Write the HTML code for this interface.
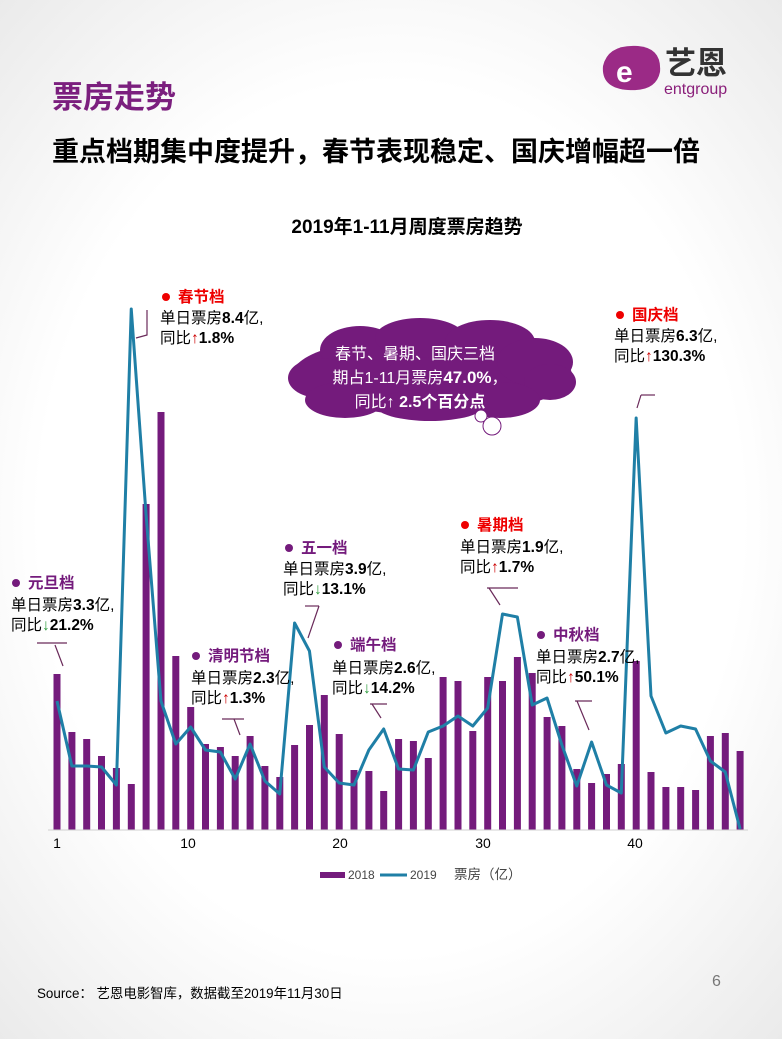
<!DOCTYPE html>
<html><head><meta charset="utf-8"><style>
html,body{margin:0;padding:0}
body{width:782px;height:1039px;overflow:hidden;background:radial-gradient(ellipse 75% 70% at 50% 50%,#ffffff 60%,#e9e9e9 100%);font-family:"Liberation Sans","Noto Sans CJK SC",sans-serif}
</style></head><body>
<svg width="782" height="1039" xmlns="http://www.w3.org/2000/svg" style="position:absolute;left:0;top:0;font-family:'Liberation Sans','Noto Sans CJK SC',sans-serif">
<!-- logo -->
<g>
<path d="M603 66 Q608 44 638 46 Q662 48 660 72 Q656 92 628 90 Q601 88 603 66Z" fill="#9b2a86"/>
<text x="616" y="82" font-size="30" font-weight="bold" fill="#fff">e</text>
<text x="665" y="74" font-size="31" font-weight="bold" fill="#333">艺恩</text>
<text x="664" y="94" font-size="16" fill="#8a1f7a">entgroup</text>
</g>
<text x="52" y="108" font-size="31" font-weight="bold" fill="#7b1f7e">票房走势</text>
<text x="52" y="161" font-size="27" font-weight="bold" fill="#000">重点档期集中度提升，春节表现稳定、国庆增幅超一倍</text>
<text x="407" y="233" font-size="19" font-weight="bold" fill="#000" text-anchor="middle">2019年1-11月周度票房趋势</text>

<!-- bars -->
<g fill="#741b7c">
<rect x="53.5" y="674" width="7" height="156"/>
<rect x="68.4" y="732" width="7" height="98"/>
<rect x="83.2" y="739" width="7" height="91"/>
<rect x="98" y="756" width="7" height="74"/>
<rect x="112.9" y="768" width="7" height="62"/>
<rect x="127.8" y="784" width="7" height="46"/>
<rect x="142.6" y="504" width="7" height="326"/>
<rect x="157.5" y="412" width="7" height="418"/>
<rect x="172.3" y="656" width="7" height="174"/>
<rect x="187.2" y="707" width="7" height="123"/>
<rect x="202" y="744" width="7" height="86"/>
<rect x="216.9" y="747" width="7" height="83"/>
<rect x="231.7" y="756" width="7" height="74"/>
<rect x="246.6" y="736" width="7" height="94"/>
<rect x="261.4" y="766" width="7" height="64"/>
<rect x="276.3" y="777" width="7" height="53"/>
<rect x="291.1" y="745" width="7" height="85"/>
<rect x="306" y="725" width="7" height="105"/>
<rect x="320.8" y="695" width="7" height="135"/>
<rect x="335.7" y="734" width="7" height="96"/>
<rect x="350.5" y="770" width="7" height="60"/>
<rect x="365.4" y="771" width="7" height="59"/>
<rect x="380.2" y="791" width="7" height="39"/>
<rect x="395.1" y="739" width="7" height="91"/>
<rect x="409.9" y="741" width="7" height="89"/>
<rect x="424.8" y="758" width="7" height="72"/>
<rect x="439.6" y="677" width="7" height="153"/>
<rect x="454.5" y="681" width="7" height="149"/>
<rect x="469.3" y="731" width="7" height="99"/>
<rect x="484.2" y="677" width="7" height="153"/>
<rect x="499" y="681" width="7" height="149"/>
<rect x="513.9" y="657" width="7" height="173"/>
<rect x="528.7" y="673" width="7" height="157"/>
<rect x="543.6" y="717" width="7" height="113"/>
<rect x="558.4" y="726" width="7" height="104"/>
<rect x="573.3" y="769" width="7" height="61"/>
<rect x="588.1" y="783" width="7" height="47"/>
<rect x="603" y="774" width="7" height="56"/>
<rect x="617.8" y="764" width="7" height="66"/>
<rect x="632.7" y="661" width="7" height="169"/>
<rect x="647.5" y="772" width="7" height="58"/>
<rect x="662.4" y="787" width="7" height="43"/>
<rect x="677.2" y="787" width="7" height="43"/>
<rect x="692.1" y="790" width="7" height="40"/>
<rect x="706.9" y="736" width="7" height="94"/>
<rect x="721.8" y="733" width="7" height="97"/>
<rect x="736.6" y="751" width="7" height="79"/>
</g>
<line x1="48" y1="830" x2="748" y2="830" stroke="#d0d0d0" stroke-width="1"/>
<polyline fill="none" stroke="#1f7fa6" stroke-width="3" stroke-linejoin="round" points="57,701 71.85,766 86.7,766 101.55,767 116.4,785 131.25,309 146.1,515 160.95,701 175.8,744 190.65,727 205.5,750 220.35,752 235.2,779 250.05,744 264.9,781 279.75,794 294.6,623 309.45,651 324.3,767 339.15,783 354,785 368.85,750 383.7,729 398.55,769 413.4,770 428.25,732 443.1,726 457.95,716 472.8,726 487.65,708 502.5,614 517.35,617 532.2,705 547.05,698 561.9,745 576.75,786 591.6,742 606.45,785 621.3,793 636.15,418 651,696 665.85,733 680.7,726 695.55,729 710.4,761 725.25,772 740.1,829"/>
<g font-size="14" fill="#000">
<text x="57" y="848" text-anchor="middle">1</text>
<text x="188" y="848" text-anchor="middle">10</text>
<text x="340" y="848" text-anchor="middle">20</text>
<text x="483" y="848" text-anchor="middle">30</text>
<text x="635" y="848" text-anchor="middle">40</text>
</g>
<!-- legend -->
<rect x="320" y="872" width="25" height="6" fill="#741b7c"/>
<text x="348" y="879" font-size="12" fill="#444">2018</text>
<line x1="380" y1="875" x2="407" y2="875" stroke="#1f7fa6" stroke-width="3"/>
<text x="410" y="879" font-size="12" fill="#444">2019</text>
<text x="454" y="879" font-size="13.5" fill="#444">票房（亿）</text>

<!-- cloud -->
<g fill="#741b7c">
<ellipse cx="432" cy="375" rx="140" ry="40"/>
<ellipse cx="360" cy="350" rx="40" ry="24"/><ellipse cx="420" cy="338" rx="45" ry="20"/>
<ellipse cx="490" cy="342" rx="45" ry="22"/><ellipse cx="535" cy="362" rx="38" ry="24"/><ellipse cx="550" cy="382" rx="26" ry="18"/>
<ellipse cx="320" cy="378" rx="32" ry="20"/><ellipse cx="345" cy="400" rx="40" ry="18"/><ellipse cx="430" cy="405" rx="55" ry="16"/><ellipse cx="500" cy="400" rx="40" ry="18"/>
</g>
<circle cx="481" cy="416" r="6" fill="#fff" stroke="#741b7c"/>
<circle cx="492" cy="426" r="9" fill="#fff" stroke="#741b7c"/>
<g fill="#fff" font-size="16" text-anchor="middle">
<text x="415" y="359">春节、暑期、国庆三档</text>
<text x="420" y="383">期占1-11月票房<tspan font-weight="bold" font-size="17">47.0%</tspan>，</text>
<text x="420" y="407">同比↑ <tspan font-weight="bold">2.5个百分点</tspan></text>
</g>

<!-- annotations -->
<g font-size="15.5" fill="#000">
<circle cx="166" cy="297" r="4" fill="#e00"/><text x="178" y="302" font-weight="bold" fill="#e00">春节档</text>
<text x="160" y="323">单日票房<tspan font-weight="bold">8.4</tspan>亿,</text>
<text x="160" y="343">同比<tspan fill="#c00">↑</tspan><tspan font-weight="bold">1.8%</tspan></text>

<circle cx="16" cy="583" r="4" fill="#741b7c"/><text x="28" y="588" font-weight="bold" fill="#741b7c">元旦档</text>
<text x="11" y="610">单日票房<tspan font-weight="bold">3.3</tspan>亿,</text>
<text x="11" y="630">同比<tspan fill="#2a9a3a">↓</tspan><tspan font-weight="bold">21.2%</tspan></text>

<circle cx="196" cy="656" r="4" fill="#741b7c"/><text x="208" y="661" font-weight="bold" fill="#741b7c">清明节档</text>
<text x="191" y="683">单日票房<tspan font-weight="bold">2.3</tspan>亿,</text>
<text x="191" y="703">同比<tspan fill="#c00">↑</tspan><tspan font-weight="bold">1.3%</tspan></text>

<circle cx="289" cy="548" r="4" fill="#741b7c"/><text x="301" y="553" font-weight="bold" fill="#741b7c">五一档</text>
<text x="283" y="574">单日票房<tspan font-weight="bold">3.9</tspan>亿,</text>
<text x="283" y="594">同比<tspan fill="#2a9a3a">↓</tspan><tspan font-weight="bold">13.1%</tspan></text>

<circle cx="338" cy="645" r="4" fill="#741b7c"/><text x="350" y="650" font-weight="bold" fill="#741b7c">端午档</text>
<text x="332" y="673">单日票房<tspan font-weight="bold">2.6</tspan>亿,</text>
<text x="332" y="693">同比<tspan fill="#2a9a3a">↓</tspan><tspan font-weight="bold">14.2%</tspan></text>

<circle cx="465" cy="525" r="4" fill="#e00"/><text x="477" y="530" font-weight="bold" fill="#e00">暑期档</text>
<text x="460" y="552">单日票房<tspan font-weight="bold">1.9</tspan>亿,</text>
<text x="460" y="572">同比<tspan fill="#c00">↑</tspan><tspan font-weight="bold">1.7%</tspan></text>

<circle cx="541" cy="635" r="4" fill="#741b7c"/><text x="553" y="640" font-weight="bold" fill="#741b7c">中秋档</text>
<text x="536" y="662">单日票房<tspan font-weight="bold">2.7</tspan>亿,</text>
<text x="536" y="682">同比<tspan fill="#c00">↑</tspan><tspan font-weight="bold">50.1%</tspan></text>

<circle cx="620" cy="315" r="4" fill="#e00"/><text x="632" y="320" font-weight="bold" fill="#e00">国庆档</text>
<text x="614" y="341">单日票房<tspan font-weight="bold">6.3</tspan>亿,</text>
<text x="614" y="361">同比<tspan fill="#c00">↑</tspan><tspan font-weight="bold">130.3%</tspan></text>
</g>
<!-- callout lines -->
<g stroke="#6a2a5a" stroke-width="1.2" fill="none">
<polyline points="147,310 147,335 136,338"/>
<polyline points="37,643 67,643"/><line x1="55" y1="645" x2="63" y2="666"/>
<polyline points="222,719 244,719"/><line x1="234" y1="719" x2="240" y2="735"/>
<polyline points="305,606 319,606"/><line x1="319" y1="606" x2="308" y2="638"/>
<polyline points="370,704 387,704"/><line x1="372" y1="704" x2="381" y2="718"/>
<polyline points="487,588 518,588"/><line x1="489" y1="588" x2="500" y2="605"/>
<polyline points="575,701 592,701"/><line x1="577" y1="701" x2="589" y2="730"/>
<polyline points="641,395 655,395"/><line x1="641" y1="395" x2="637" y2="408"/>
</g>

<text x="712" y="986" font-size="16" fill="#777">6</text>
<text x="37" y="998" font-size="13.4" fill="#000">Source： 艺恩电影智库，数据截至2019年11月30日</text>
</svg>
</body></html>
